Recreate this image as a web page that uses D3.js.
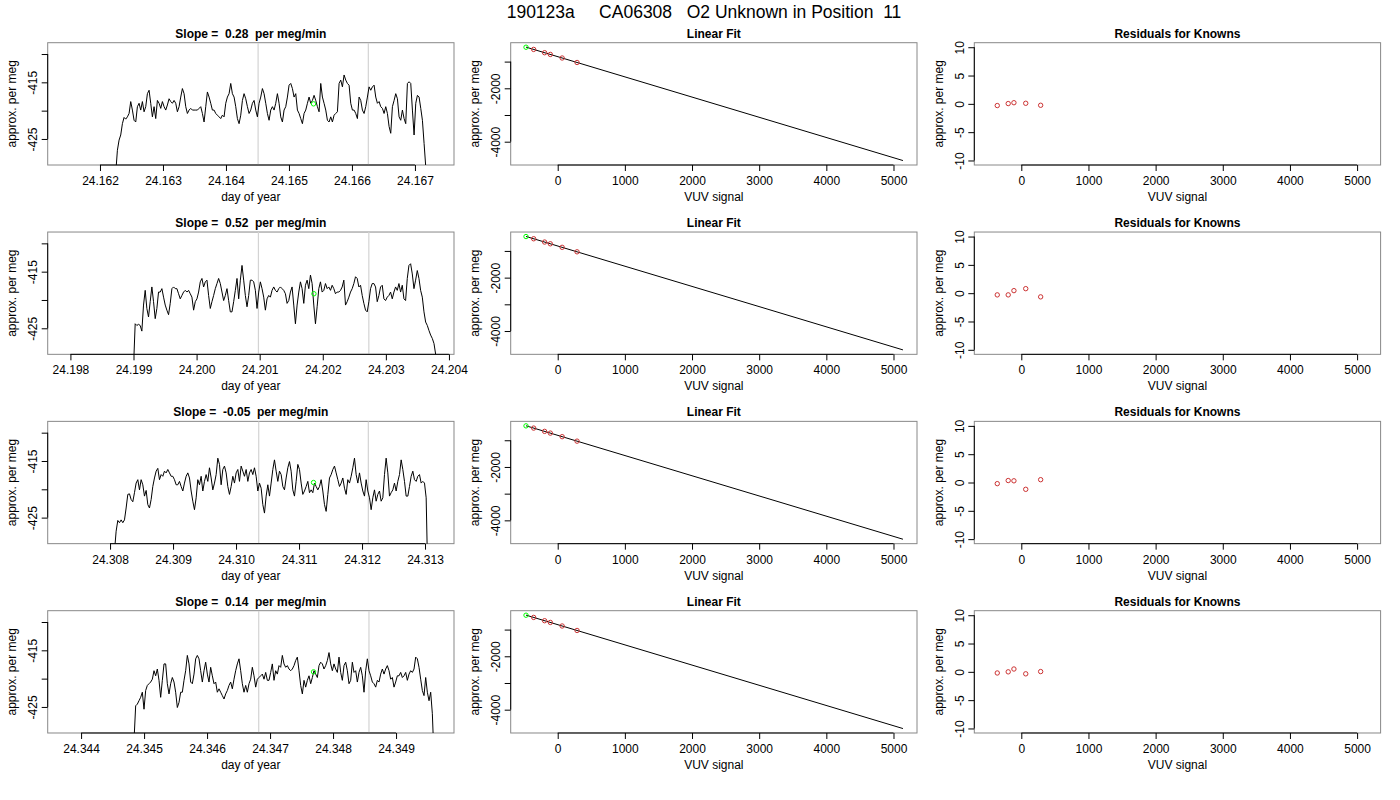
<!DOCTYPE html>
<html>
<head>
<meta charset="utf-8">
<script src="https://cdn.jsdelivr.net/npm/d3@7"></script>
<style>
  body { margin: 0; background: #fff; }
  svg { font-family: "Liberation Sans", Arial, Helvetica, sans-serif; }
</style>
</head>
<body>
<svg width="1400" height="800"></svg>
<script>
const width = 1400;
const height = 800;

// ---- data ----
const mainTitle = "190123a     CA06308   O2 Unknown in Position  11";
const slopes = ["0.28", "0.52", "-0.05", "0.14"];

// time series: first sample time (day of year) and sample spacing
const tsStart = [24.16225, 24.19900, 24.30807, 24.34484];
const tsStep = 2.646e-5;
const tsDomains = [[24.16117, 24.16762], [24.19764, 24.20408], [24.30701, 24.31346], [24.34347, 24.34992]];
const tsTicks = [
    [24.162, 24.163, 24.164, 24.165, 24.166, 24.167],
    [24.198, 24.199, 24.200, 24.201, 24.202, 24.203, 24.204],
    [24.308, 24.309, 24.310, 24.311, 24.312, 24.313],
    [24.344, 24.345, 24.346, 24.347, 24.348, 24.349]
];
const cutTimes = [[24.16451, 24.16626], [24.20098, 24.20273], [24.31036, 24.31210], [24.34682, 24.34857]];
const unknownTime = [24.16539, 24.20186, 24.31123, 24.34769];
const unknownLevel = [-418.8, -418.9, -418.8, -418.8];
const tsYDomain = [-429.6, -408.0];
const tsYTicks = [-425, -420, -415, -410];

const ts1 = [
    -431, -427.0, -425.2, -424.3, -422.3, -421.2, -421.5, -421.1, -420.5, -418.4,
    -419.9, -421.7, -422.0, -419.3, -418.7, -419.9, -418.4, -420.2, -419.3, -417.0,
    -416.4, -418.7, -421.1, -419.3, -421.4, -418.2, -418.7, -419.6, -418.4, -419.3,
    -419.9, -419.0, -417.9, -418.4, -418.7, -418.2, -418.7, -420.2, -419.3, -417.6,
    -416.1, -417.0, -419.3, -420.5, -419.9, -419.6, -419.9, -419.9, -419.9, -419.9,
    -419.6, -419.3, -420.5, -422.0, -419.3, -416.7, -417.6, -418.7, -419.9, -419.9,
    -420.5, -420.8, -421.1, -421.4, -420.8, -421.1, -418.7, -417.6, -417.0, -415.2,
    -417.0, -417.6, -419.3, -421.4, -422.3, -420.8, -418.2, -417.0, -417.9, -419.3,
    -420.5, -419.9, -418.7, -418.2, -419.9, -421.1, -418.7, -417.6, -416.1, -417.0,
    -418.7, -420.5, -421.7, -419.9, -419.3,
    -419.9, -418.7, -417.0, -418.7, -421.1, -422.0, -419.9, -419.3, -417.6, -415.5,
    -415.2, -416.1, -417.6, -417.0, -419.9, -420.5, -421.4, -422.3, -420.5, -419.9,
    -418.7, -417.6, -418.7, -418.2, -417.3, -418.2, -419.3, -420.2, -415.2, -417.6,
    -418.7, -419.9, -421.7, -422.0, -421.1, -422.0, -420.8, -420.5, -420.2, -415.2,
    -414.6, -415.8, -413.7, -414.6, -415.2, -415.5, -418.7, -419.9, -419.9, -420.5,
    -421.4, -417.6, -418.2, -419.9, -420.5, -419.3, -417.6, -415.8, -416.4, -415.8,
    -415.5, -417.6, -418.7, -418.4, -419.3, -419.6, -420.5, -419.3, -420.5, -422.8,
    -424.0, -419.3, -418.2, -417.0, -417.9, -421.1, -421.7, -419.9, -421.4, -422.3,
    -415.2, -414.9, -415.2, -419.9, -424.3, -418.7, -417.3, -417.6, -419.6, -421.7,
    -425.8, -429.9, -436
];
const ts2 = [
    -432, -424.2, -424.5, -424.3, -424.5, -425.5, -420.9, -418.3, -421.5, -423.0,
    -420.3, -417.7, -420.3, -423.3, -421.5, -418.6, -418.6, -418.0, -419.5, -420.9,
    -421.8, -422.6, -420.6, -418.0, -417.7, -418.0, -418.0, -418.9, -419.8, -419.2,
    -418.6, -418.3, -418.6, -418.3, -418.9, -419.5, -421.8, -420.3, -419.8, -418.6,
    -416.8, -416.2, -417.7, -416.8, -416.5, -419.2, -421.5, -420.3, -419.2, -418.0,
    -417.1, -416.2, -417.1, -418.6, -420.1, -419.2, -418.0, -420.1, -422.1, -422.1,
    -420.3, -418.3, -416.2, -419.8, -416.5, -413.9, -416.5, -419.2, -421.2, -419.2,
    -416.5, -416.5, -416.8, -418.3, -421.5, -418.6, -416.8, -418.0, -419.5, -421.8,
    -419.8, -419.2, -419.5, -418.3, -417.7, -418.3, -418.6, -418.0, -417.7, -418.0,
    -418.3, -418.9, -420.6, -420.1, -418.6, -417.7, -420.9, -424.2, -420.9, -418.6,
    -416.8, -418.0, -420.6, -417.4, -416.5, -418.0, -415.6, -417.1, -420.9, -424.2,
    -421.2, -418.0, -416.8, -418.6, -418.3, -417.1, -418.0, -417.7, -418.3, -417.4,
    -418.0, -418.9, -418.6, -418.6, -418.3, -417.7, -416.5, -420.9, -420.3, -419.5,
    -418.6, -418.0, -417.1, -415.9, -416.2, -417.7, -417.4, -419.2, -420.6, -421.8,
    -422.1, -420.3, -418.0, -417.1, -417.1, -417.7, -420.3, -419.2, -417.7, -417.4,
    -419.8, -420.1, -419.5, -419.2, -418.6, -419.8, -418.6, -417.7, -418.3, -417.1,
    -418.6, -417.4, -419.8, -420.1, -416.2, -413.9, -413.6, -415.4, -418.0, -416.5,
    -414.8, -416.2, -418.3, -419.5, -422.1, -423.9, -424.5, -425.4, -426.2, -426.8,
    -427.7, -429.6, -435
];
const ts3 = [
    -431, -427.4, -425.5, -425.9, -425.4, -425.9, -425.4, -423.3, -420.9, -420.8,
    -421.8, -422.2, -420.6, -418.9, -418.3, -420.1, -418.3, -419.2, -421.2, -420.2,
    -422.7, -423.3, -421.8, -419.5, -418.0, -416.8, -416.3, -418.3, -417.4, -417.7,
    -416.8, -417.1, -416.5, -417.1, -417.7, -417.7, -418.3, -419.2, -419.2, -418.6,
    -419.5, -420.3, -418.9, -417.7, -417.1, -418.0, -420.3, -422.1, -423.6, -421.5,
    -418.3, -419.2, -417.7, -420.3, -418.6, -417.4, -418.6, -416.2, -418.0, -420.1,
    -418.9, -417.4, -414.5, -415.6, -419.2, -416.5, -415.9, -417.1, -419.5, -420.9,
    -419.5, -417.7, -418.9, -417.1, -416.5, -418.6, -415.9, -416.8, -417.7, -416.5,
    -418.6, -417.1, -416.5, -417.4, -416.2, -417.7, -420.3, -418.9, -419.8, -422.7,
    -424.2, -421.2, -419.2, -421.2, -418.9, -416.5, -414.8, -416.8, -418.6, -416.8,
    -417.4, -419.5, -420.1, -418.0, -416.2, -415.1, -416.8, -420.1, -421.2, -418.6,
    -415.6, -416.5, -418.9, -420.9, -420.3, -419.5, -418.6, -420.6, -420.1, -420.6,
    -418.9, -419.5, -420.1, -419.5, -418.3, -420.3, -422.7, -423.9, -420.9, -418.0,
    -417.4, -416.5, -415.9, -417.1, -418.3, -419.5, -418.9, -418.0, -419.8, -420.9,
    -418.3, -418.9, -417.7, -416.2, -414.5, -417.4, -418.9, -417.1, -418.9, -420.3,
    -421.2, -418.3, -420.3, -421.5, -423.6, -421.5, -420.1, -422.1, -420.9, -420.3,
    -422.1, -421.5, -417.4, -414.5, -417.1, -421.2, -420.6, -420.1, -418.9, -420.3,
    -418.6, -417.4, -414.8, -416.5, -418.6, -421.2, -421.2, -419.5, -417.7, -416.8,
    -418.3, -418.6, -417.7, -417.4, -418.9, -418.6, -418.9, -421.5, -436
];
const ts4 = [
    -431, -424.8, -424.5, -423.9, -423.3, -422.4, -425.4, -422.1, -421.2, -420.9,
    -420.6, -420.1, -418.6, -419.5, -418.3, -420.3, -423.3, -420.3, -417.4, -417.4,
    -420.9, -422.7, -420.9, -419.8, -420.6, -422.4, -425.1, -424.2, -422.4, -422.4,
    -420.3, -418.6, -415.9, -417.4, -420.6, -420.9, -419.2, -416.5, -415.9, -416.5,
    -418.6, -420.6, -418.6, -417.1, -419.2, -420.6, -418.0, -419.5, -420.9, -420.6,
    -422.4, -421.8, -422.4, -423.0, -423.6, -422.7, -422.1, -421.2, -420.6, -421.8,
    -420.1, -418.6, -417.4, -416.5, -418.6, -420.9, -422.4, -421.2, -422.4, -420.9,
    -420.1, -418.0, -419.5, -421.5, -420.1, -419.8, -419.5, -419.2, -420.1, -418.9,
    -420.3, -420.3, -418.9, -417.4, -420.3, -418.6, -419.2, -417.7, -418.0, -415.9,
    -417.4, -418.0, -417.7, -418.3, -418.6, -418.3, -417.7, -416.8, -416.2, -418.6,
    -421.2, -422.7, -420.3, -421.5, -420.3, -419.5, -420.9, -419.8, -418.6, -419.2,
    -419.8, -417.7, -417.1, -417.4, -418.3, -417.7, -416.8, -415.4, -417.4, -418.6,
    -417.4, -418.3, -418.9, -416.2, -418.9, -420.3, -417.7, -417.1, -418.6, -420.9,
    -420.3, -417.1, -418.9, -418.6, -420.6, -418.9, -418.0, -419.5, -422.4, -418.6,
    -416.5, -418.6, -419.5, -420.6, -420.9, -421.5, -420.3, -420.6, -419.2, -418.3,
    -419.2, -418.3, -417.7, -418.6, -420.1, -419.8, -421.5, -420.6, -419.5, -419.5,
    -418.9, -419.8, -419.5, -418.9, -420.3, -419.2, -418.6, -418.9, -418.3, -416.2,
    -416.5, -418.0, -420.1, -422.1, -423.0, -419.8, -422.4, -423.9, -422.4, -426.2,
    -434
];
const tsSeries = [ts1, ts2, ts3, ts4];

// calibration: knowns (VUV signal vs per meg), unknown and fitted line
const knownSignal = [-358, -195, -110, 66, 288];
const knownValue = [-544, -667, -732, -865, -1033];
const unknownSignal = -472;
const unknownValue = -461;
const fitIntercept = -815;
const fitSlope = -0.757;
const fitRange = [-472, 5141];
const residuals = [
    [-0.3, 0.05, 0.2, 0.1, -0.25],
    [-0.3, -0.3, 0.45, 0.8, -0.65],
    [-0.2, 0.35, 0.3, -1.2, 0.5],
    [-0.2, 0.0, 0.5, -0.35, 0.05]
];
const vuvDomain = [-700, 5350];
const vuvTicks = [0, 1000, 2000, 3000, 4000, 5000];
const fitYDomain = [-4873, -292];
const fitYTicks = [-4000, -3000, -2000, -1000];
const resYDomain = [-10.8, 10.8];
const resYTicks = [-10, -5, 0, 5, 10];

// ---- layout ----
const colLeft = [47.7, 510.7, 974.3];
const boxW = 406.3;
const boxH = 122.3;
const rowTop = 42.7;
const rowStep = 189.33;

const svg = d3.select("svg")
    .attr("width", width)
    .attr("height", height);

svg.append("text")
    .attr("x", 704)
    .attr("y", 18)
    .attr("text-anchor", "middle")
    .style("font-size", "17.5px")
    .style("white-space", "pre")
    .text(mainTitle);

// hide labels that would crowd their neighbour, the way R's axis() does
function thinLabels(axisG, vertical) {
    let lastEnd = -Infinity;
    axisG.selectAll(".tick").each(function (d) {
        const t = d3.select(this).select("text");
        const size = t.node().getComputedTextLength();
        const m = /translate\(([-\d.e]+),\s*([-\d.e]+)\)/.exec(this.getAttribute("transform"));
        const pos = vertical ? -parseFloat(m[2]) : parseFloat(m[1]);
        if (pos - size / 2 >= lastEnd + 10) {
            lastEnd = pos + size / 2;
        } else {
            t.style("display", "none");
        }
    });
}

function makePanel(row, col, opts) {
    const g = svg.append("g")
        .attr("transform", `translate(${colLeft[col]},${rowTop + row * rowStep})`);
    const x = d3.scaleLinear().domain(opts.xDomain).range([0, boxW]);
    const y = d3.scaleLinear().domain(opts.yDomain).range([boxH, 0]);

    const clipId = `clip-${row}-${col}`;
    g.append("clipPath").attr("id", clipId)
        .append("rect").attr("width", boxW).attr("height", boxH);

    g.append("rect")
        .attr("width", boxW)
        .attr("height", boxH)
        .attr("fill", "none")
        .attr("stroke", "#888");

    const plot = g.append("g").attr("clip-path", `url(#${clipId})`);

    const xAxis = g.append("g")
        .attr("transform", `translate(0,${boxH})`)
        .call(d3.axisBottom(x).tickValues(opts.xTicks).tickFormat(opts.xFormat).tickSize(6).tickSizeOuter(0))
        .attr("font-size", 12)
        .attr("font-family", null);
    xAxis.select(".domain").remove();
    xAxis.append("line")
        .attr("x1", x(opts.xTicks[0]))
        .attr("x2", x(opts.xTicks[opts.xTicks.length - 1]))
        .attr("stroke", "#000");
    xAxis.selectAll(".tick text").attr("y", 20).attr("dy", 0);
    thinLabels(xAxis, false);

    const yAxis = g.append("g")
        .call(d3.axisLeft(y).tickValues(opts.yTicks).tickFormat(d => String(d)).tickSize(6).tickSizeOuter(0))
        .attr("font-size", 12)
        .attr("font-family", null);
    yAxis.select(".domain").remove();
    yAxis.append("line")
        .attr("y1", y(opts.yTicks[0]))
        .attr("y2", y(opts.yTicks[opts.yTicks.length - 1]))
        .attr("stroke", "#000");
    yAxis.selectAll(".tick text")
        .attr("x", 0)
        .attr("y", -10.5)
        .attr("dy", 0)
        .attr("text-anchor", "middle")
        .attr("transform", "rotate(-90)");
    thinLabels(yAxis, true);

    g.append("text")
        .attr("x", boxW / 2)
        .attr("y", -5)
        .attr("text-anchor", "middle")
        .attr("font-weight", "bold")
        .attr("font-size", 12)
        .style("white-space", "pre")
        .text(opts.title);

    g.append("text")
        .attr("x", boxW / 2)
        .attr("y", boxH + 36)
        .attr("text-anchor", "middle")
        .attr("font-size", 12)
        .text(opts.xLabel);

    g.append("text")
        .attr("transform", `translate(-31.5,${boxH / 2}) rotate(-90)`)
        .attr("text-anchor", "middle")
        .attr("font-size", 12)
        .text("approx. per meg");

    return { plot, x, y };
}

tsSeries.forEach((series, row) => {
    // column 1: the unknown's time series
    const p1 = makePanel(row, 0, {
        xDomain: tsDomains[row], yDomain: tsYDomain,
        xTicks: tsTicks[row], yTicks: tsYTicks,
        xFormat: d => d.toFixed(3),
        title: `Slope =  ${slopes[row]}  per meg/min`,
        xLabel: "day of year"
    });
    p1.plot.selectAll(".cut")
        .data(cutTimes[row])
        .enter()
        .append("line")
        .attr("class", "cut")
        .attr("x1", d => p1.x(d)).attr("x2", d => p1.x(d))
        .attr("y1", 0).attr("y2", boxH)
        .attr("stroke", "#d3d3d3")
        .attr("stroke-width", 1.2);
    p1.plot.append("path")
        .datum(series)
        .attr("fill", "none")
        .attr("stroke", "#000")
        .attr("stroke-width", 1)
        .attr("d", d3.line()
            .x((d, i) => p1.x(tsStart[row] + i * tsStep))
            .y(d => p1.y(d)));
    p1.plot.append("circle")
        .attr("cx", p1.x(unknownTime[row]))
        .attr("cy", p1.y(unknownLevel[row]))
        .attr("r", 2.2)
        .attr("fill", "none")
        .attr("stroke", "#00ff00");

    // column 2: linear fit through the knowns
    const p2 = makePanel(row, 1, {
        xDomain: vuvDomain, yDomain: fitYDomain,
        xTicks: vuvTicks, yTicks: fitYTicks,
        xFormat: d => String(d),
        title: "Linear Fit",
        xLabel: "VUV signal"
    });
    p2.plot.append("line")
        .attr("x1", p2.x(fitRange[0]))
        .attr("y1", p2.y(fitIntercept + fitSlope * fitRange[0]))
        .attr("x2", p2.x(fitRange[1]))
        .attr("y2", p2.y(fitIntercept + fitSlope * fitRange[1]))
        .attr("stroke", "#000");
    p2.plot.selectAll(".known")
        .data(knownSignal)
        .enter()
        .append("circle")
        .attr("class", "known")
        .attr("cx", d => p2.x(d))
        .attr("cy", (d, i) => p2.y(knownValue[i]))
        .attr("r", 2.2)
        .attr("fill", "none")
        .attr("stroke", "#cc3333");
    p2.plot.append("circle")
        .attr("cx", p2.x(unknownSignal))
        .attr("cy", p2.y(unknownValue))
        .attr("r", 2.2)
        .attr("fill", "none")
        .attr("stroke", "#00ff00");

    // column 3: residuals for the knowns
    const p3 = makePanel(row, 2, {
        xDomain: vuvDomain, yDomain: resYDomain,
        xTicks: vuvTicks, yTicks: resYTicks,
        xFormat: d => String(d),
        title: "Residuals for Knowns",
        xLabel: "VUV signal"
    });
    p3.plot.selectAll(".resid")
        .data(residuals[row])
        .enter()
        .append("circle")
        .attr("class", "resid")
        .attr("cx", (d, i) => p3.x(knownSignal[i]))
        .attr("cy", d => p3.y(d))
        .attr("r", 2.2)
        .attr("fill", "none")
        .attr("stroke", "#cc3333");
});
</script>
</body>
</html>
